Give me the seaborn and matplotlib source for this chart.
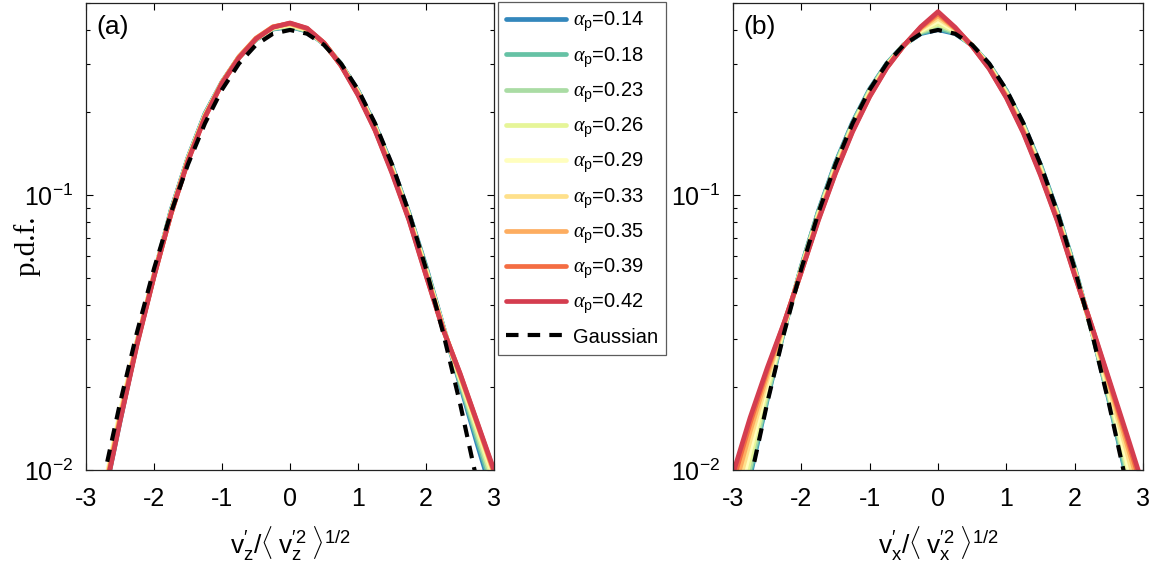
import matplotlib
matplotlib.use("Agg")
import matplotlib.pyplot as plt
import matplotlib.ticker as mticker
from matplotlib.font_manager import FontProperties
import pandas as pd
import seaborn as sns

# normalised velocity fluctuation (x axis of both panels)
x_vals = [-3.0, -2.75, -2.5, -2.25, -2.0, -1.75, -1.5, -1.25, -1.0, -0.75, -0.5, -0.25,
          0.0, 0.25, 0.5, 0.75, 1.0, 1.25, 1.5, 1.75, 2.0, 2.25, 2.5, 2.75, 3.0]

alpha_p = ["0.14", "0.18", "0.23", "0.26", "0.29", "0.33", "0.35", "0.39", "0.42"]

# reference Gaussian
gauss = [0.0044, 0.0091, 0.0175, 0.0317, 0.0540, 0.0863, 0.1295, 0.1826, 0.2420, 0.3011, 0.3521, 0.3867,
         0.3989, 0.3867, 0.3521, 0.3011, 0.2420, 0.1826, 0.1295, 0.0863, 0.0540, 0.0317, 0.0175, 0.0091, 0.0044]

# panel (a): vertical component
pdf_z_014 = [0.0040, 0.0076, 0.0150, 0.0290, 0.0510, 0.0880, 0.1370, 0.1980, 0.2580, 0.3180, 0.3680, 0.4020,
             0.4100, 0.3950, 0.3550, 0.3000, 0.2400, 0.1800, 0.1280, 0.0860, 0.0550, 0.0335, 0.0205, 0.0125, 0.0078]
pdf_z_018 = [0.0040, 0.0077, 0.0152, 0.0291, 0.0512, 0.0875, 0.1365, 0.1970, 0.2575, 0.3175, 0.3680, 0.4030,
             0.4110, 0.3960, 0.3555, 0.2995, 0.2390, 0.1790, 0.1270, 0.0855, 0.0545, 0.0333, 0.0208, 0.0130, 0.0082]
pdf_z_023 = [0.0041, 0.0078, 0.0155, 0.0292, 0.0512, 0.0870, 0.1360, 0.1960, 0.2570, 0.3170, 0.3690, 0.4040,
             0.4130, 0.3970, 0.3560, 0.2990, 0.2380, 0.1780, 0.1260, 0.0850, 0.0540, 0.0332, 0.0212, 0.0135, 0.0086]
pdf_z_026 = [0.0041, 0.0080, 0.0160, 0.0293, 0.0513, 0.0866, 0.1355, 0.1950, 0.2565, 0.3168, 0.3695, 0.4055,
             0.4150, 0.3985, 0.3565, 0.2985, 0.2370, 0.1770, 0.1250, 0.0843, 0.0535, 0.0331, 0.0215, 0.0140, 0.0090]
pdf_z_029 = [0.0042, 0.0082, 0.0162, 0.0293, 0.0512, 0.0862, 0.1350, 0.1945, 0.2560, 0.3170, 0.3700, 0.4070,
             0.4170, 0.4000, 0.3570, 0.2980, 0.2360, 0.1760, 0.1240, 0.0835, 0.0530, 0.0330, 0.0218, 0.0145, 0.0094]
pdf_z_033 = [0.0041, 0.0080, 0.0158, 0.0291, 0.0510, 0.0858, 0.1345, 0.1940, 0.2565, 0.3180, 0.3710, 0.4085,
             0.4190, 0.4015, 0.3572, 0.2975, 0.2350, 0.1750, 0.1230, 0.0828, 0.0524, 0.0328, 0.0220, 0.0147, 0.0096]
pdf_z_035 = [0.0041, 0.0078, 0.0155, 0.0289, 0.0509, 0.0855, 0.1340, 0.1935, 0.2565, 0.3190, 0.3725, 0.4100,
             0.4205, 0.4030, 0.3575, 0.2970, 0.2335, 0.1738, 0.1220, 0.0820, 0.0518, 0.0327, 0.0222, 0.0148, 0.0098]
pdf_z_039 = [0.0040, 0.0077, 0.0152, 0.0287, 0.0507, 0.0855, 0.1335, 0.1928, 0.2560, 0.3170, 0.3715, 0.4090,
             0.4220, 0.4040, 0.3578, 0.2965, 0.2320, 0.1728, 0.1210, 0.0815, 0.0513, 0.0326, 0.0224, 0.0149, 0.0099]
pdf_z_042 = [0.0040, 0.0076, 0.0150, 0.0285, 0.0505, 0.0855, 0.1330, 0.1920, 0.2550, 0.3160, 0.3700, 0.4080,
             0.4230, 0.4050, 0.3580, 0.2960, 0.2310, 0.1720, 0.1200, 0.0810, 0.0510, 0.0325, 0.0225, 0.0150, 0.0100]

# panel (b): horizontal component
pdf_x_014 = [0.0048, 0.0095, 0.0180, 0.0325, 0.0550, 0.0875, 0.1310, 0.1840, 0.2430, 0.3010, 0.3520, 0.3870,
             0.4000, 0.3870, 0.3510, 0.2990, 0.2400, 0.1810, 0.1290, 0.0865, 0.0545, 0.0322, 0.0180, 0.0096, 0.0050]
pdf_x_018 = [0.0050, 0.0098, 0.0183, 0.0327, 0.0548, 0.0870, 0.1300, 0.1830, 0.2420, 0.3000, 0.3520, 0.3890,
             0.4050, 0.3890, 0.3510, 0.2980, 0.2390, 0.1800, 0.1280, 0.0860, 0.0542, 0.0322, 0.0182, 0.0098, 0.0052]
pdf_x_023 = [0.0054, 0.0103, 0.0188, 0.0329, 0.0545, 0.0862, 0.1285, 0.1810, 0.2400, 0.2985, 0.3515, 0.3920,
             0.4120, 0.3920, 0.3505, 0.2970, 0.2370, 0.1785, 0.1265, 0.0850, 0.0538, 0.0323, 0.0186, 0.0103, 0.0055]
pdf_x_026 = [0.0060, 0.0110, 0.0196, 0.0332, 0.0540, 0.0850, 0.1268, 0.1790, 0.2375, 0.2965, 0.3510, 0.3950,
             0.4200, 0.3950, 0.3500, 0.2955, 0.2350, 0.1768, 0.1250, 0.0840, 0.0530, 0.0324, 0.0190, 0.0107, 0.0058]
pdf_x_029 = [0.0066, 0.0118, 0.0205, 0.0335, 0.0535, 0.0840, 0.1250, 0.1770, 0.2350, 0.2950, 0.3510, 0.3980,
             0.4300, 0.3980, 0.3500, 0.2940, 0.2330, 0.1750, 0.1235, 0.0830, 0.0525, 0.0325, 0.0195, 0.0112, 0.0062]
pdf_x_033 = [0.0074, 0.0128, 0.0213, 0.0338, 0.0532, 0.0830, 0.1235, 0.1750, 0.2325, 0.2935, 0.3505, 0.4020,
             0.4400, 0.4015, 0.3495, 0.2920, 0.2310, 0.1730, 0.1220, 0.0822, 0.0522, 0.0328, 0.0202, 0.0120, 0.0070]
pdf_x_035 = [0.0082, 0.0138, 0.0222, 0.0341, 0.0530, 0.0822, 0.1220, 0.1730, 0.2305, 0.2920, 0.3503, 0.4050,
             0.4500, 0.4040, 0.3490, 0.2905, 0.2290, 0.1710, 0.1205, 0.0813, 0.0518, 0.0331, 0.0208, 0.0128, 0.0078]
pdf_x_039 = [0.0091, 0.0148, 0.0230, 0.0344, 0.0527, 0.0815, 0.1208, 0.1712, 0.2290, 0.2908, 0.3501, 0.4080,
             0.4580, 0.4060, 0.3485, 0.2890, 0.2272, 0.1692, 0.1190, 0.0805, 0.0513, 0.0333, 0.0212, 0.0134, 0.0084]
pdf_x_042 = [0.0097, 0.0155, 0.0235, 0.0345, 0.0525, 0.0810, 0.1200, 0.1700, 0.2280, 0.2900, 0.3500, 0.4100,
             0.4650, 0.4080, 0.3480, 0.2880, 0.2260, 0.1680, 0.1180, 0.0800, 0.0510, 0.0335, 0.0215, 0.0138, 0.0088]

pdfs_z = [pdf_z_014, pdf_z_018, pdf_z_023, pdf_z_026, pdf_z_029, pdf_z_033, pdf_z_035, pdf_z_039, pdf_z_042]
pdfs_x = [pdf_x_014, pdf_x_018, pdf_x_023, pdf_x_026, pdf_x_029, pdf_x_033, pdf_x_035, pdf_x_039, pdf_x_042]


def long_table(pdfs):
    rows = []
    for a, vals in zip(alpha_p, pdfs):
        for xv, yv in zip(x_vals, vals):
            rows.append({"x": xv, "pdf": yv, "alpha": a})
    return pd.DataFrame(rows)


sns.set_theme(style="ticks")
plt.rcParams["font.family"] = ["Liberation Sans", "DejaVu Sans"]
plt.rcParams["mathtext.fontset"] = "custom"
plt.rcParams["mathtext.rm"] = "Liberation Sans"
plt.rcParams["mathtext.it"] = "Liberation Serif:italic"
plt.rcParams["mathtext.sf"] = "Liberation Sans"
plt.rcParams["axes.unicode_minus"] = False
plt.rcParams["xtick.direction"] = "in"
plt.rcParams["ytick.direction"] = "in"
plt.rcParams["text.color"] = "black"
plt.rcParams["xtick.color"] = "black"
plt.rcParams["ytick.color"] = "black"
plt.rcParams["axes.labelcolor"] = "black"

palette = sns.color_palette("Spectral_r", len(alpha_p))

fig = plt.figure(figsize=(11.56, 5.68), dpi=100)
ax_a = fig.add_axes([86 / 1156, 98 / 568, 408 / 1156, 467 / 568])
ax_b = fig.add_axes([733 / 1156, 98 / 568, 410 / 1156, 467 / 568])

gauss_df = pd.DataFrame({"x": x_vals, "pdf": gauss})

for ax, pdfs, tag, xlab in [
    (ax_a, pdfs_z, "(a)", r"$\mathrm{v^{\prime}_z/\langle\;v^{\prime 2}_z\;\rangle^{1/2}}$"),
    (ax_b, pdfs_x, "(b)", r"$\mathrm{v^{\prime}_x/\langle\;v^{\prime 2}_x\;\rangle^{1/2}}$"),
]:
    sns.lineplot(data=long_table(pdfs), x="x", y="pdf", hue="alpha", palette=palette,
                 linewidth=3.4, sort=False, legend=False, ax=ax)
    sns.lineplot(data=gauss_df, x="x", y="pdf", color="black", linewidth=3,
                 ax=ax, legend=False)
    ax.lines[-1].set_dashes((3, 2.2))
    ax.set_yscale("log")
    ax.set_xlim(-3, 3)
    ax.set_ylim(0.01, 0.5)
    ax.set_xticks([-3, -2, -1, 0, 1, 2, 3])
    ax.yaxis.set_minor_formatter(mticker.NullFormatter())
    ax.tick_params(which="both", top=True, right=True, labelsize=18, width=0.8)
    ax.tick_params(axis="x", pad=12, length=5)
    ax.tick_params(axis="y", which="major", pad=9, length=5)
    ax.tick_params(axis="y", which="minor", length=3)
    for sp in ax.spines.values():
        sp.set_linewidth(0.9)
        sp.set_color("#222222")
    ax.set_xlabel(xlab, fontsize=19, labelpad=10)
    ax.set_ylabel("")
    ax.text(0.025, 0.975, tag, transform=ax.transAxes, fontsize=19, ha="left", va="top")

fig.text(27 / 1156, 1 - 246 / 568, "p.d.f.", rotation=90, ha="center", va="center",
         fontsize=21, family="Liberation Serif")

handles = ax_a.get_lines()[:len(alpha_p) + 1]
labels = [r"$\alpha_{\mathrm{p}}$=" + a for a in alpha_p] + ["Gaussian"]
leg = fig.legend(handles, labels, loc="upper left", bbox_to_anchor=(498 / 1156, 1 - 2 / 568),
                 borderaxespad=0, frameon=True, fancybox=False, edgecolor="#333333",
                 handlelength=3.0, handletextpad=0.3, labelspacing=0.55, borderpad=0.4,
                 prop=FontProperties(family="Liberation Sans", size=14.5))
leg.get_frame().set_linewidth(0.9)

fig.savefig("out.png", dpi=100)
